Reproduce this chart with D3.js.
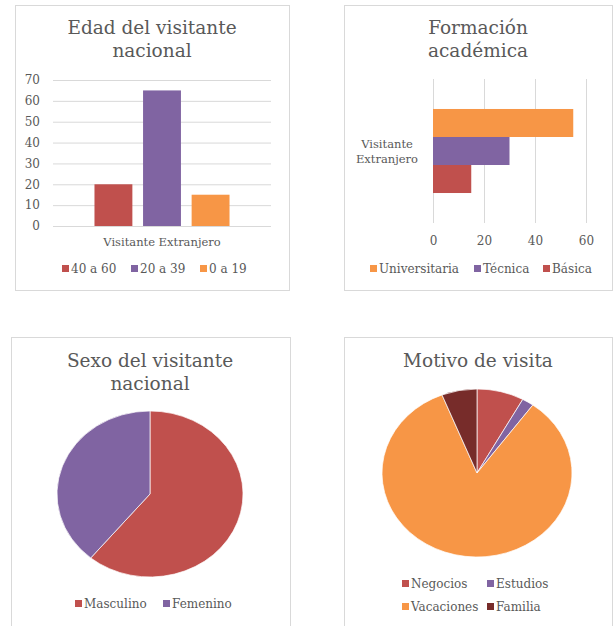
<!DOCTYPE html>
<html>
<head>
<meta charset="utf-8">
<script src="https://cdn.jsdelivr.net/npm/d3@7"></script>
<style>
  body { margin: 0; background: #fff; }
  svg { display: block; }
  text { font-family: "DejaVu Serif", serif; fill: #595959; }
</style>
</head>
<body>
<svg id="chart" width="613" height="626"></svg>
<script>
// chart data
var ageCategory = ["Visitante Extranjero"];
var ageGroups = ["40 a 60", "20 a 39", "0 a 19"];
var ageValues = [20, 65, 15];
var ageTicks = [0, 10, 20, 30, 40, 50, 60, 70];

var eduCategory = ["Visitante Extranjero"];
var eduGroups = ["Universitaria", "Técnica", "Básica"];
var eduValues = [55, 30, 15];
var eduTicks = [0, 20, 40, 60];

var sexLabels = ["Masculino", "Femenino"];
var sexValues = [61, 39];

var motiveLabels = ["Negocios", "Estudios", "Vacaciones", "Familia"];
var motiveValues = [8, 2, 84, 6];

var RED = "#C0504D", PURPLE = "#8064A2", ORANGE = "#F79646", DARKRED = "#772C2A";
var GRID = "#d9d9d9";

var svg = d3.select("#chart");

// panel frames
function frame(x, y, w, h) {
  svg.append("rect")
    .attr("x", x + 0.5).attr("y", y + 0.5)
    .attr("width", w).attr("height", h)
    .attr("fill", "#fff").attr("stroke", GRID).attr("stroke-width", 1);
}

function title(lines, cx, y0) {
  lines.forEach(function (t, i) {
    svg.append("text")
      .attr("x", cx).attr("y", y0 + i * 23)
      .attr("text-anchor", "middle")
      .style("font-size", "18.5px")
      .text(t);
  });
}

// legend items: [{label, color, x, y}]
function legend(items) {
  items.forEach(function (d) {
    svg.append("rect")
      .attr("x", d.x).attr("y", d.y - 8)
      .attr("width", 7).attr("height", 7)
      .attr("fill", d.color);
    svg.append("text")
      .attr("x", d.x + 9).attr("y", d.y)
      .style("font-size", "12px")
      .text(d.label);
  });
}

frame(15, 5, 274, 285);
frame(344, 5, 268, 285);
frame(11, 337, 279, 290);
frame(344, 337, 268, 290);

//
// Panel 1: Edad del visitante nacional
//
title(["Edad del visitante", "nacional"], 152, 34);

var ageColors = [RED, PURPLE, ORANGE];
var y1 = d3.scaleLinear().domain([0, 70]).range([226, 80]);
var x1 = d3.scaleBand().domain(ageCategory).range([53, 271]).padding(0.235);
var x1s = d3.scaleBand().domain(ageGroups).range([0, x1.bandwidth()]).paddingInner(0.22);

var g1 = svg.append("g");
g1.append("g")
  .attr("transform", "translate(53,0)")
  .call(d3.axisLeft(y1).tickValues(ageTicks).tickSize(-218).tickPadding(13))
  .call(function (g) {
    g.select(".domain").remove();
    g.selectAll(".tick line").attr("stroke", GRID);
    g.selectAll(".tick text").style("font-size", "12px").attr("fill", "#595959")
      .style("font-family", "DejaVu Serif, serif");
  });

g1.selectAll(".bar")
  .data(ageValues)
  .enter().append("rect")
  .attr("class", "bar")
  .attr("x", function (d, i) { return x1(ageCategory[0]) + x1s(ageGroups[i]); })
  .attr("width", x1s.bandwidth())
  .attr("y", function (d) { return y1(d); })
  .attr("height", function (d) { return y1(0) - y1(d); })
  .attr("fill", function (d, i) { return ageColors[i]; });

g1.append("text")
  .attr("x", x1(ageCategory[0]) + x1.bandwidth() / 2).attr("y", 246)
  .attr("text-anchor", "middle")
  .style("font-size", "11.5px")
  .text(ageCategory[0]);

legend([
  { label: ageGroups[0], color: RED, x: 62, y: 273 },
  { label: ageGroups[1], color: PURPLE, x: 131, y: 273 },
  { label: ageGroups[2], color: ORANGE, x: 200, y: 273 }
]);

//
// Panel 2: Formación académica
//
title(["Formación", "académica"], 478, 34);

var eduColors = [ORANGE, PURPLE, RED];
var x2 = d3.scaleLinear().domain([0, 60]).range([433, 586]);
var y2 = d3.scaleBand().domain(eduCategory).range([79, 223]).padding(0.263);
var y2s = d3.scaleBand().domain(eduGroups).range([0, y2.bandwidth()]);

var g2 = svg.append("g");
g2.append("g")
  .attr("transform", "translate(0,223)")
  .call(d3.axisBottom(x2).tickValues(eduTicks).tickSize(-144).tickPadding(13))
  .call(function (g) {
    g.select(".domain").remove();
    g.selectAll(".tick line").attr("stroke", GRID);
    g.selectAll(".tick text").style("font-size", "12px").attr("fill", "#595959")
      .style("font-family", "DejaVu Serif, serif");
  });

g2.selectAll(".bar")
  .data(eduValues)
  .enter().append("rect")
  .attr("class", "bar")
  .attr("x", x2(0))
  .attr("width", function (d) { return x2(d) - x2(0); })
  .attr("y", function (d, i) { return y2(eduCategory[0]) + y2s(eduGroups[i]); })
  .attr("height", y2s.bandwidth())
  .attr("fill", function (d, i) { return eduColors[i]; });

var catY = y2(eduCategory[0]) + y2.bandwidth() / 2;
["Visitante", "Extranjero"].forEach(function (t, i) {
  g2.append("text")
    .attr("x", 387).attr("y", catY - 3 + i * 15)
    .attr("text-anchor", "middle")
    .style("font-size", "11.5px")
    .text(t);
});

legend([
  { label: eduGroups[0], color: ORANGE, x: 370, y: 273 },
  { label: eduGroups[1], color: PURPLE, x: 474, y: 273 },
  { label: eduGroups[2], color: RED, x: 543, y: 273 }
]);

//
// Pies (slightly elliptical, as in the reference)
//
function pie(values, colors, cx, cy, rx, ry) {
  var r = 100;
  var arc = d3.arc().innerRadius(0).outerRadius(r);
  var slices = d3.pie().sort(null).value(function (d) { return d; })(values);
  svg.append("g")
    .attr("transform", "translate(" + cx + "," + cy + ") scale(" + (rx / r) + "," + (ry / r) + ")")
    .selectAll("path")
    .data(slices)
    .enter().append("path")
    .attr("d", arc)
    .attr("fill", function (d, i) { return colors[i]; })
    .attr("stroke", "#fff")
    .attr("stroke-width", 0.8);
}

// Panel 3: Sexo del visitante nacional
title(["Sexo del visitante", "nacional"], 150, 367);
pie(sexValues, [RED, PURPLE], 150, 494, 93, 83);
legend([
  { label: sexLabels[0], color: RED, x: 75, y: 608 },
  { label: sexLabels[1], color: PURPLE, x: 163, y: 608 }
]);

// Panel 4: Motivo de visita
title(["Motivo de visita"], 478, 367);
pie(motiveValues, [RED, PURPLE, ORANGE, DARKRED], 477, 473, 95, 84);
legend([
  { label: motiveLabels[0], color: RED, x: 402, y: 588 },
  { label: motiveLabels[1], color: PURPLE, x: 487, y: 588 },
  { label: motiveLabels[2], color: ORANGE, x: 402, y: 611 },
  { label: motiveLabels[3], color: DARKRED, x: 487, y: 611 }
]);
</script>
</body>
</html>
